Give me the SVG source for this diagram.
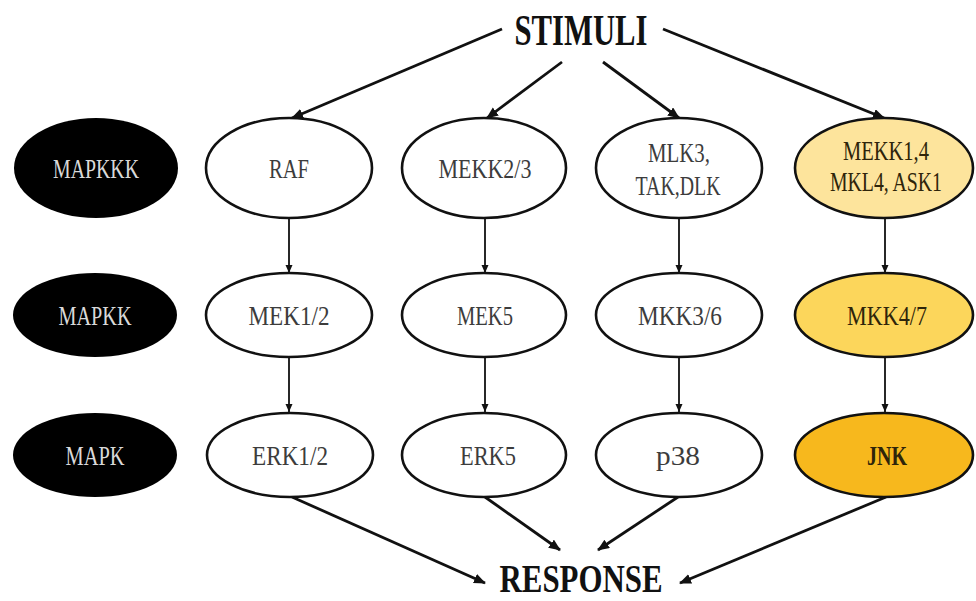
<svg xmlns="http://www.w3.org/2000/svg" width="976" height="601" viewBox="0 0 976 601">
<style>
.lbl{font-family:"Liberation Serif","DejaVu Serif",serif;font-size:28px;text-anchor:middle}
.w{fill:#3c3c3c}
.k{fill:#d9d9d9}
.y{fill:#2e240a}
.title{font-family:"Liberation Serif","DejaVu Serif",serif;font-weight:bold;fill:#111;text-anchor:middle}
.blk{fill:#000}
.wht{fill:#fff;stroke:#111;stroke-width:2.6}
.y1{fill:#fde49c;stroke:#111;stroke-width:2.6}
.y2{fill:#fcd65b;stroke:#111;stroke-width:2.6}
.y3{fill:#f7b81d;stroke:#111;stroke-width:2.6}
.c{stroke:#111;fill:none}
.d{stroke-width:2.8;marker-end:url(#ah)}
.v{stroke-width:1.8;marker-end:url(#as)}
</style>
<defs>
<marker id="ah" markerUnits="userSpaceOnUse" markerWidth="13" markerHeight="11" refX="11" refY="5" orient="auto"><path d="M0,0 L12,5 L0,10 z" fill="#111"/></marker>
<marker id="as" markerUnits="userSpaceOnUse" markerWidth="9" markerHeight="8" refX="8" refY="3.5" orient="auto"><path d="M0,0 L8,3.5 L0,7 z" fill="#111"/></marker>
</defs>
<g id="connectors">
<line class="c d" x1="502" y1="29" x2="292" y2="118"/>
<line class="c d" x1="562" y1="62" x2="487" y2="118"/>
<line class="c d" x1="603" y1="62" x2="679" y2="118"/>
<line class="c d" x1="663" y1="29" x2="884" y2="118"/>
<line class="c v" x1="289" y1="218" x2="289" y2="273"/>
<line class="c v" x1="485" y1="218" x2="485" y2="273"/>
<line class="c v" x1="679" y1="218" x2="679" y2="273"/>
<line class="c v" x1="885" y1="218" x2="885" y2="273"/>
<line class="c v" x1="289" y1="357" x2="289" y2="412"/>
<line class="c v" x1="485" y1="357" x2="485" y2="412"/>
<line class="c v" x1="679" y1="357" x2="679" y2="412"/>
<line class="c v" x1="885" y1="357" x2="885" y2="412"/>
<line class="c d" x1="292" y1="497" x2="485" y2="583"/>
<line class="c d" x1="485" y1="497" x2="560" y2="550"/>
<line class="c d" x1="678" y1="497" x2="598" y2="550"/>
<line class="c d" x1="886" y1="497" x2="680" y2="583"/>
</g>
<g id="stimuli"><text class="title" x="581" y="45" font-size="44" textLength="133" lengthAdjust="spacingAndGlyphs">STIMULI</text></g>
<g id="response"><text class="title" x="581" y="592" font-size="39" textLength="163" lengthAdjust="spacingAndGlyphs">RESPONSE</text></g>
<g id="mapkkk"><ellipse class="blk" cx="96" cy="168" rx="82" ry="50"/><text class="lbl k" x="96" y="178" textLength="86" lengthAdjust="spacingAndGlyphs">MAPKKK</text></g>
<g id="mapkk"><ellipse class="blk" cx="95" cy="315" rx="82" ry="42"/><text class="lbl k" x="95" y="325" textLength="73" lengthAdjust="spacingAndGlyphs">MAPKK</text></g>
<g id="mapk"><ellipse class="blk" cx="95" cy="455" rx="82" ry="42"/><text class="lbl k" x="95" y="465" textLength="59" lengthAdjust="spacingAndGlyphs">MAPK</text></g>
<g id="raf"><ellipse class="wht" cx="289" cy="168" rx="83" ry="50"/><text class="lbl w" x="289" y="178" textLength="40" lengthAdjust="spacingAndGlyphs">RAF</text></g>
<g id="mekk23"><ellipse class="wht" cx="484" cy="168" rx="82" ry="50"/><text class="lbl w" x="485" y="178" textLength="93" lengthAdjust="spacingAndGlyphs">MEKK2/3</text></g>
<g id="mlk3"><ellipse class="wht" cx="679" cy="168" rx="83" ry="50"/><text class="lbl w" x="679" y="162" textLength="62" lengthAdjust="spacingAndGlyphs">MLK3,</text><text class="lbl w" x="678" y="195" textLength="85" lengthAdjust="spacingAndGlyphs">TAK,DLK</text></g>
<g id="mekk14"><ellipse class="y1" cx="884" cy="168" rx="89" ry="50"/><text class="lbl y" x="886" y="160" font-size="26" textLength="86" lengthAdjust="spacingAndGlyphs">MEKK1,4</text><text class="lbl y" x="886" y="191" font-size="26" textLength="112" lengthAdjust="spacingAndGlyphs">MKL4, ASK1</text></g>
<g id="mek12"><ellipse class="wht" cx="289" cy="315" rx="83" ry="42"/><text class="lbl w" x="289" y="325" textLength="81" lengthAdjust="spacingAndGlyphs">MEK1/2</text></g>
<g id="mek5"><ellipse class="wht" cx="484" cy="315" rx="82" ry="42"/><text class="lbl w" x="485" y="325" textLength="56" lengthAdjust="spacingAndGlyphs">MEK5</text></g>
<g id="mkk36"><ellipse class="wht" cx="679" cy="315" rx="83" ry="42"/><text class="lbl w" x="680" y="325" textLength="84" lengthAdjust="spacingAndGlyphs">MKK3/6</text></g>
<g id="mkk47"><ellipse class="y2" cx="884" cy="315" rx="89" ry="42"/><text class="lbl y" x="887" y="325" textLength="80" lengthAdjust="spacingAndGlyphs">MKK4/7</text></g>
<g id="erk12"><ellipse class="wht" cx="290" cy="455" rx="83" ry="42"/><text class="lbl w" x="290" y="465" textLength="76" lengthAdjust="spacingAndGlyphs">ERK1/2</text></g>
<g id="erk5"><ellipse class="wht" cx="484" cy="455" rx="82" ry="42"/><text class="lbl w" x="488" y="465" textLength="56" lengthAdjust="spacingAndGlyphs">ERK5</text></g>
<g id="p38"><ellipse class="wht" cx="679" cy="455" rx="83" ry="42"/><text class="lbl w" x="678" y="465" textLength="44" lengthAdjust="spacingAndGlyphs">p38</text></g>
<g id="jnk"><ellipse class="y3" cx="884" cy="455" rx="89" ry="42"/><text class="lbl y" x="887" y="465" textLength="40" lengthAdjust="spacingAndGlyphs" font-weight="bold">JNK</text></g>
</svg>
